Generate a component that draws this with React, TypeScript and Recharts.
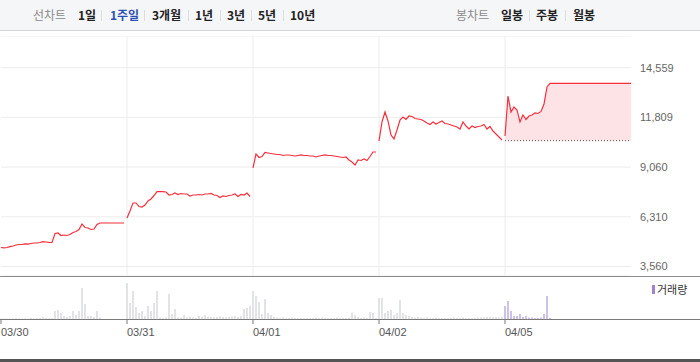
import {
  ComposedChart,
  Line,
  Area,
  Bar,
  Cell,
  XAxis,
  YAxis,
  CartesianGrid,
  ReferenceLine,
} from 'recharts'

// 1주일 선차트: 5 sessions, 42 slots per session
const dates = ['03/30', '03/31', '04/01', '04/02', '04/05']
const priceTicks = [3560, 6310, 9060, 11809, 14559]
const prevClose = 10520

const day1Price = [
  4611, 4595, 4611, 4656, 4694, 4750, 4777, 4777, 4816, 4794,
  4833, 4860, 4860, 4888, 4932, 4916, 4899, 4888, 5386, 5414,
  5275, 5303, 5275, 5331, 5441, 5497, 5607, 5912, 5718, 5690,
  5607, 5635, 5884, 5967, 5967, 5967, 5967, 5967, 5967, 5967,
  5967, 5967,
]
const day2Price = [
  6243, 6631, 7074, 7074, 6880, 6852, 6963, 7184, 7295, 7488,
  7699, 7699, 7699, 7682, 7516, 7544, 7627, 7544, 7599, 7571,
  7571, 7461, 7516, 7516, 7544, 7516, 7571, 7571, 7599, 7516,
  7488, 7378, 7461, 7433, 7488, 7516, 7571, 7433, 7544, 7516,
  7627, 7433,
]
const day3Price = [
  9010, 9785, 9591, 9646, 9868, 9840, 9812, 9785, 9757, 9757,
  9702, 9730, 9730, 9702, 9674, 9702, 9730, 9702, 9702, 9674,
  9674, 9619, 9674, 9702, 9730, 9702, 9702, 9674, 9646, 9619,
  9591, 9619, 9453, 9342, 9176, 9453, 9425, 9508, 9425, 9646,
  9895, 9895,
]
const day4Price = [
  10504, 11555, 12109, 11611, 10836, 10615, 11113, 11666, 11832, 11694,
  11887, 11860, 11749, 11721, 11694, 11611, 11500, 11417, 11555, 11445,
  11528, 11611, 11473, 11445, 11390, 11334, 11279, 11168, 11555, 11334,
  11168, 11334, 11251, 11306, 11334, 11417, 11168, 11306, 11057, 10891,
  10725, 10559,
]
const day5Price = [
  10781, 12994, 12109, 12386, 12220, 11555, 11943, 11694, 11887, 11943,
  12054, 12026, 12137, 12552, 13493, 13687,
]

const day1Vol = [
  0.5, 0.5, 0.5, 0.5, 0.5, 0.8, 0.5, 0.5, 0.8, 0.5,
  1, 0.5, 1, 1.2, 2, 1, 0.8, 1, 8, 9,
  6, 3, 2, 3, 8, 4, 8, 31, 15, 3,
  3, 2, 8, 1.5, 0, 0, 0, 0, 0, 0,
  0, 0,
]
const day2Vol = [
  36, 16, 28, 12, 6, 8, 3, 13, 8, 16,
  28, 1.5, 1, 1.5, 25, 5, 10, 1.5, 1.5, 4,
  1.5, 2.5, 1.5, 1, 3, 2, 4, 2.5, 2, 1.5,
  2, 2.5, 2, 1.5, 2, 2.5, 3, 2, 3, 10,
  11, 13,
]
const day3Vol = [
  28, 23, 17, 5, 20, 6, 4, 2, 1.5, 1,
  1.5, 1, 1, 1.5, 1, 1, 1, 1, 1, 1,
  1, 1, 1, 1.5, 1, 1, 1, 1, 1.5, 1,
  1, 1, 1.5, 6.5, 4, 2, 1, 1.5, 1, 7,
  6, 1,
]
const day4Vol = [
  21, 21, 6, 8, 9, 4, 6, 19, 6, 4,
  3, 2, 1.5, 2, 1.5, 1, 1.5, 1, 1, 1,
  1, 1, 1, 1, 1, 1.5, 1, 1, 1.5, 1,
  1, 1, 1, 1.5, 1.5, 1.5, 2, 2, 2, 2,
  1.5, 2,
]
const day5Vol = [13, 18, 8, 3, 3, 5, 2, 3, 1.5, 1.5, 1, 1, 1.5, 5, 23, 1]

const SLOTS = 42
const prices = [day1Price, day2Price, day3Price, day4Price, day5Price]
const volumes = [day1Vol, day2Vol, day3Vol, day4Vol, day5Vol]

const rows: any[] = []
prices.forEach((day, d) =>
  day.forEach((p, i) => {
    rows.push({ x: d * SLOTS + i, day: d, ['p' + d]: p, vol: volumes[d][i] })
  })
)
// current price is carried to the session close
const priceRows = [...rows, { x: 5 * SLOTS, p4: day5Price[day5Price.length - 1] }]

const RED = '#f5303d'
const GRID = '#ececec'
const FONT = "'Noto Sans CJK KR', sans-serif"
const NUM_FONT = "'Liberation Sans', Arial, sans-serif"

function DateTick(props: any) {
  const { x, y, payload } = props
  return (
    <text x={x} y={y} dy={10} textAnchor="start" fontSize={11} fill="#555" fontFamily={NUM_FONT}>
      {dates[Math.round(payload.value / SLOTS)]}
    </text>
  )
}

const lineMenu = [
  { t: '1일', left: 78 },
  { t: '1주일', left: 110, on: true },
  { t: '3개월', left: 152 },
  { t: '1년', left: 195 },
  { t: '3년', left: 227 },
  { t: '5년', left: 258 },
  { t: '10년', left: 290 },
]
const candleMenu = [
  { t: '일봉', left: 501 },
  { t: '주봉', left: 536 },
  { t: '월봉', left: 573 },
]
const seps = [101, 144, 188, 220, 251, 283, 529, 565]

export default function App() {
  const label = (t: string, left: number, color: string, bold: boolean) => (
    <span
      key={t + left}
      style={{
        position: 'absolute',
        left,
        top: 0,
        lineHeight: '30px',
        fontSize: 12,
        fontWeight: bold ? 700 : 400,
        color,
        fontFamily: FONT,
        whiteSpace: 'nowrap',
      }}
    >
      {t}
    </span>
  )

  return (
    <div style={{ position: 'absolute', left: 0, top: 0, width: 700, height: 362, background: '#fff', overflow: 'hidden' }}>
      {/* header */}
      <div style={{ position: 'absolute', left: 0, top: 0, width: 700, height: 30, background: '#f5f6f8', borderBottom: '1px solid #d2d4d8' }}>
        {label('선차트', 33, '#8a8a8a', false)}
        {lineMenu.map((m) => label(m.t, m.left, m.on ? '#2d4fb5' : '#222', true))}
        {label('봉차트', 456, '#8a8a8a', false)}
        {candleMenu.map((m) => label(m.t, m.left, '#222', true))}
        {seps.map((l) => (
          <div key={l} style={{ position: 'absolute', left: l, top: 10, width: 1, height: 11, background: '#dcdde0' }} />
        ))}
      </div>

      {/* price panel */}
      <div style={{ position: 'absolute', left: 0, top: 36 }}>
        <ComposedChart width={700} height={240} data={priceRows} margin={{ top: 0, right: 0, bottom: 0, left: 1 }}>
          <CartesianGrid vertical={false} stroke={GRID} />
          <XAxis dataKey="x" type="number" domain={[0, 5 * SLOTS]} hide />
          <YAxis
            orientation="right"
            width={69}
            domain={[3034, 16313]}
            ticks={priceTicks}
            axisLine={false}
            tickLine={false}
            tickMargin={3}
            tick={{ fontSize: 11, fill: '#666', fontFamily: NUM_FONT }}
            tickFormatter={(v: number) => v.toLocaleString('en-US')}
          />
          {[1, 2, 3, 4].map((d) => (
            <ReferenceLine key={d} x={d * SLOTS} stroke={GRID} />
          ))}
          <Area
            type="linear"
            dataKey="p4"
            baseValue={prevClose}
            fill="#fde3e6"
            fillOpacity={1}
            stroke="none"
            isAnimationActive={false}
          />
          <ReferenceLine
            segment={[
              { x: 4 * SLOTS, y: prevClose },
              { x: 5 * SLOTS, y: prevClose },
            ]}
            stroke="#555"
            strokeDasharray="1 2"
          />
          {prices.map((_, d) => (
            <Line
              key={d}
              type="linear"
              dataKey={'p' + d}
              stroke={RED}
              strokeWidth={1.2}
              dot={false}
              activeDot={false}
              connectNulls={false}
              isAnimationActive={false}
            />
          ))}
        </ComposedChart>
      </div>

      {/* panel separator */}
      <div style={{ position: 'absolute', left: 0, top: 276, width: 700, height: 1, background: '#8c8c8c' }} />

      {/* volume panel */}
      <div style={{ position: 'absolute', left: 0, top: 277 }}>
        <ComposedChart width={700} height={83} data={rows} margin={{ top: 0, right: 69, bottom: 0, left: 1 }}>
          <XAxis
            dataKey="x"
            type="number"
            domain={[0, 5 * SLOTS]}
            ticks={[0, SLOTS, 2 * SLOTS, 3 * SLOTS, 4 * SLOTS]}
            interval={0}
            height={41}
            axisLine={false}
            tickLine={{ stroke: '#777' }}
            tickSize={5}
            tick={<DateTick />}
          />
          <YAxis domain={[0, 42]} hide />
          <Bar dataKey="vol" barSize={1} isAnimationActive={false}>
            {rows.map((r, i) => (
              <Cell key={i} fill={r.day === 4 ? '#9b85cf' : '#c6c8cc'} />
            ))}
          </Bar>
        </ComposedChart>
      </div>

      {/* volume baseline */}
      <div style={{ position: 'absolute', left: 0, top: 319, width: 700, height: 1, background: '#7a7a7a' }} />

      {/* volume legend */}
      <div style={{ position: 'absolute', left: 652, top: 285, width: 3, height: 9, background: '#9b85cf' }} />
      <span style={{ position: 'absolute', left: 657, top: 281, fontSize: 11, lineHeight: '16px', color: '#333', fontFamily: FONT }}>
        거래량
      </span>

      {/* bottom border */}
      <div style={{ position: 'absolute', left: 0, top: 359, width: 700, height: 3, background: '#555' }} />
    </div>
  )
}
